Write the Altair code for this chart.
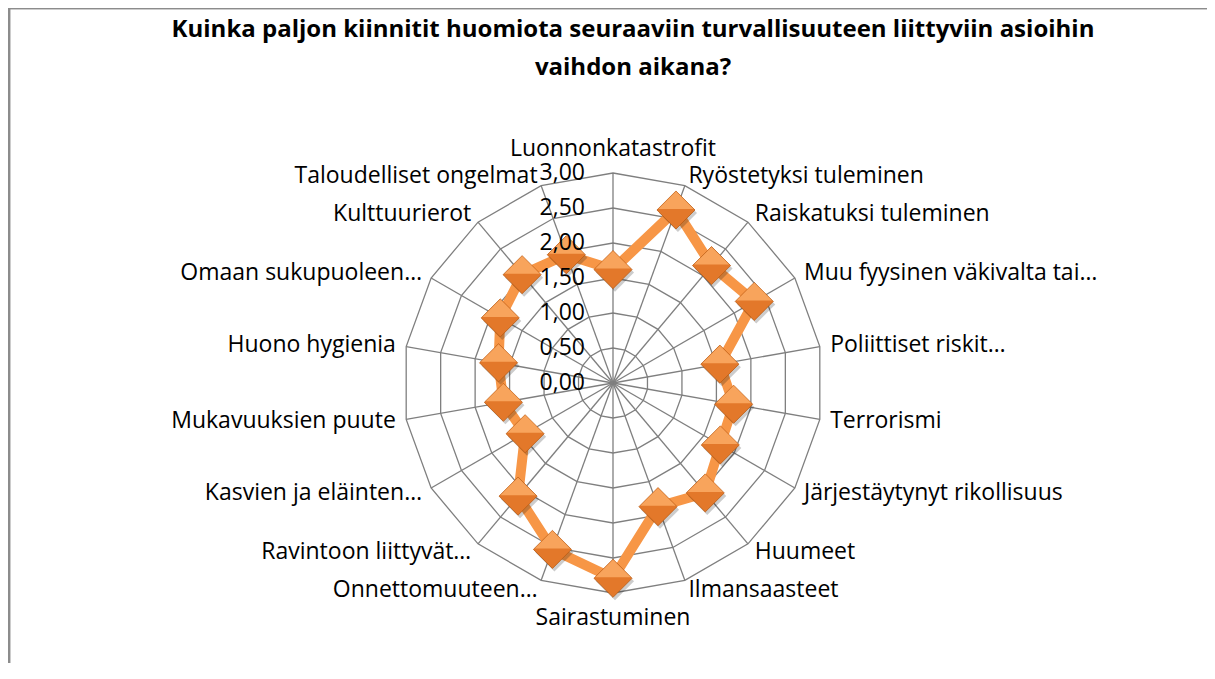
import altair as alt
import pandas as pd

# ---------------- data ----------------
categories = [
    "Luonnonkatastrofit",
    "Ryöstetyksi tuleminen",
    "Raiskatuksi tuleminen",
    "Muu fyysinen väkivalta tai…",
    "Poliittiset riskit…",
    "Terrorismi",
    "Järjestäytynyt rikollisuus",
    "Huumeet",
    "Ilmansaasteet",
    "Sairastuminen",
    "Onnettomuuteen…",
    "Ravintoon liittyvät…",
    "Kasvien ja eläinten…",
    "Mukavuuksien puute",
    "Huono hygienia",
    "Omaan sukupuoleen…",
    "Kulttuurierot",
    "Taloudelliset ongelmat",
]
values = [1.62, 2.63, 2.19, 2.33, 1.55, 1.75, 1.77, 2.05, 1.88,
          2.79, 2.53, 2.11, 1.45, 1.59, 1.66, 1.86, 2.02, 1.95]
tick_values = [0.0, 0.5, 1.0, 1.5, 2.0, 2.5, 3.0]
tick_labels = ["0,00", "0,50", "1,00", "1,50", "2,00", "2,50", "3,00"]
title_lines = [
    "Kuinka paljon kiinnitit huomiota seuraaviin turvallisuuteen liittyviin asioihin",
    "vaihdon aikana?",
]

N = len(categories)
R_MAX = 3.0
LABEL_R = 3.15

# ---------------- layout ----------------
W, H = 1199, 655
CX, CY = 605, 375      # centre of the radar in plot pixels
UNIT = 70              # pixels per 1.00
x_dom = [-CX / UNIT, (W - CX) / UNIT]
y_dom = [-(H - CY) / UNIT, CY / UNIT]

FONT = "Open Sans"
GRID = "#7F7F7F"
FS = 23

xs = alt.Scale(domain=x_dom, nice=False, zero=False)
ys = alt.Scale(domain=y_dom, nice=False, zero=False)
X = lambda f: alt.X(f, type="quantitative", scale=xs, axis=None)
Y = lambda f: alt.Y(f, type="quantitative", scale=ys, axis=None)

ang = "datum.i * 2 * PI / %d" % N

series = pd.DataFrame({"cat": categories, "value": values, "i": list(range(N))})
grid = pd.DataFrame([(lv, i) for lv in tick_values[1:] for i in range(N)],
                    columns=["level", "i"])
spokes = pd.DataFrame({"i": list(range(N))})
ticks = pd.DataFrame({"v": tick_values, "lab": tick_labels})
labels = pd.DataFrame({"cat": categories, "i": list(range(N))})
titles = pd.DataFrame({"t": title_lines, "k": list(range(len(title_lines)))})

def polar(r_expr):
    return dict(px=f"({r_expr}) * sin({ang})", py=f"({r_expr}) * cos({ang})")

# grid polygons
grid_layer = alt.Chart(grid).transform_calculate(
    **polar("datum.level")
).mark_line(interpolate="linear-closed", stroke=GRID, strokeWidth=1.3).encode(
    x=X("px"), y=Y("py"), detail="level:N", order="i:Q"
)

# spokes
spoke_layer = alt.Chart(spokes).transform_calculate(
    **polar(str(R_MAX)), zero="0"
).mark_rule(stroke=GRID, strokeWidth=1.3).encode(
    x=X("zero"), y=Y("zero"), x2="px:Q", y2="py:Q"
)

# series line
line_layer = alt.Chart(series).transform_calculate(
    **polar("datum.value")
).mark_line(interpolate="linear-closed", stroke="#F79646", strokeWidth=10,
            strokeJoin="round").encode(
    x=X("px"), y=Y("py"), order="i:Q"
)

DIAMOND = "M0,-1L1,0L0,1L-1,0Z"
TOP = "M-1,0L0,-1L1,0Z"
MSIZE = 1450

base_pts = alt.Chart(series).transform_calculate(**polar("datum.value"))
shadow = base_pts.mark_point(shape=DIAMOND, size=MSIZE, filled=True, color="#000000",
                             opacity=0.2, xOffset=2, yOffset=3).encode(x=X("px"), y=Y("py"))
bottom = base_pts.mark_point(shape=DIAMOND, size=MSIZE, filled=True, fill="#E3782A",
                             stroke="#B95C14", strokeWidth=0.8, opacity=1).encode(x=X("px"), y=Y("py"))
top = base_pts.mark_point(shape=TOP, size=MSIZE * 0.86, filled=True, fill="#F8A45C",
                          opacity=1, yOffset=-1).encode(x=X("px"), y=Y("py"))

# radial tick labels
tick_layer = alt.Chart(ticks).transform_calculate(
    tx="-0.4"
).mark_text(align="right", baseline="middle", font=FONT, fontSize=FS, color="#000000").encode(
    x=X("tx"), y=Y("v"), text="lab:N"
)

# category labels
lab_base = alt.Chart(labels).transform_calculate(**polar(str(LABEL_R)))
lab_left = lab_base.transform_filter(f"datum.i > 0 && datum.i < {N // 2}").mark_text(
    align="left", baseline="middle", font=FONT, fontSize=FS, color="#000000"
).encode(x=X("px"), y=Y("py"), text="cat:N")
lab_right = lab_base.transform_filter(f"datum.i > {N // 2}").mark_text(
    align="right", baseline="middle", font=FONT, fontSize=FS, color="#000000"
).encode(x=X("px"), y=Y("py"), text="cat:N")
lab_top = lab_base.transform_filter("datum.i == 0").mark_text(
    align="center", baseline="bottom", font=FONT, fontSize=FS, color="#000000", dy=-2
).encode(x=X("px"), y=Y("py"), text="cat:N")
lab_bottom = lab_base.transform_filter(f"datum.i == {N // 2}").mark_text(
    align="center", baseline="top", font=FONT, fontSize=FS, color="#000000", dy=3
).encode(x=X("px"), y=Y("py"), text="cat:N")

# title (two lines)
title_layer = alt.Chart(titles).transform_calculate(
    ty="22 + datum.k * 38"
).mark_text(align="center", baseline="middle", font=FONT, fontSize=24,
            fontWeight="bold", color="#000000").encode(
    x=alt.value(625), y=alt.Y("ty:Q", scale=None, axis=None),
    text="t:N"
)

# chart border (top and left edges visible)
border_top = alt.Chart(titles).mark_rule(stroke="#8C8C8C", strokeWidth=2.5).encode(
    x=alt.value(0), x2=alt.value(W), y=alt.value(0)
)
border_left = alt.Chart(titles).mark_rule(stroke="#8C8C8C", strokeWidth=2.5).encode(
    x=alt.value(1), y=alt.value(0), y2=alt.value(H)
)

chart = alt.layer(
    grid_layer, spoke_layer, line_layer, shadow, bottom, top,
    tick_layer, lab_left, lab_right, lab_top, lab_bottom,
    title_layer, border_top, border_left,
).resolve_scale(y="independent").properties(
    width=W, height=H, padding=0,
    autosize=alt.AutoSizeParams(type="none"),
).configure_view(stroke=None).configure(background="#FFFFFF")

chart.save("out.html", embed_options={"renderer": "svg", "actions": False})
